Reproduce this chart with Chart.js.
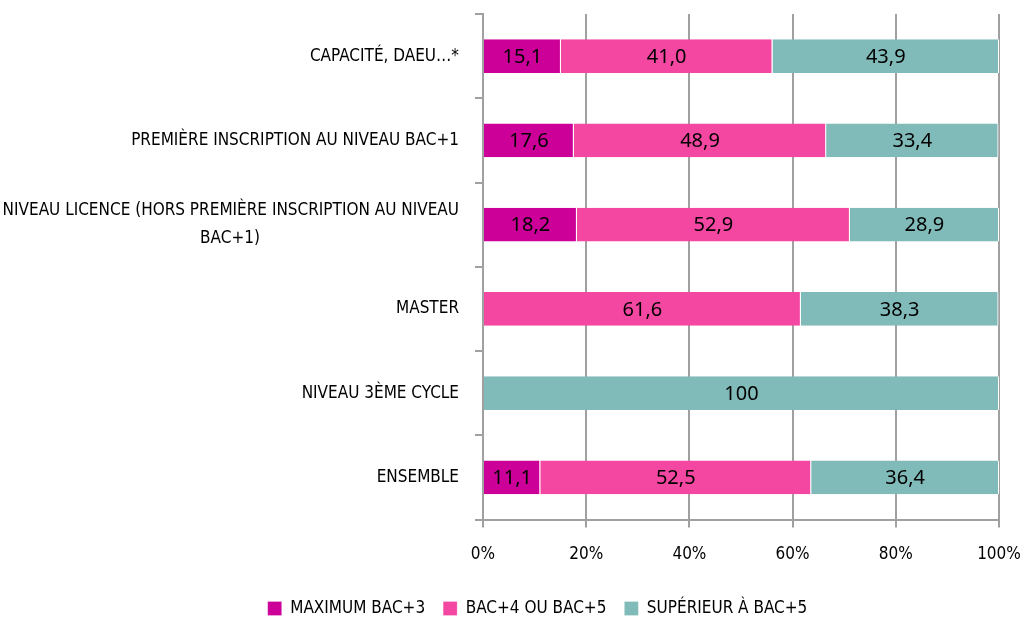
<!DOCTYPE html>
<html lang="fr">
<head>
  <meta charset="UTF-8" />
  <title>Niveau de diplôme</title>
  <script src="https://cdn.jsdelivr.net/npm/chart.js"></script>
  <style>
    body { margin: 0; background: white; }
    .chart-container { position: relative; width: 1024px; height: 621px; }
  </style>
</head>
<body>
  <div class="chart-container">
    <canvas id="chart"></canvas>
  </div>

  <script>
    const categories = [
      "CAPACITÉ, DAEU…*",
      "PREMIÈRE INSCRIPTION AU NIVEAU BAC+1",
      ["NIVEAU LICENCE (HORS PREMIÈRE INSCRIPTION AU NIVEAU", "BAC+1)"],
      "MASTER",
      "NIVEAU 3ÈME CYCLE",
      "ENSEMBLE"
    ];
    const maxBac3 = [15.1, 17.6, 18.2, null, null, 11.1];
    const bac4ou5 = [41.0, 48.9, 52.9, 61.6, null, 52.5];
    const supBac5 = [43.9, 33.4, 28.9, 38.3, 100, 36.4];
    const seriesNames = ["MAXIMUM BAC+3", "BAC+4 OU BAC+5", "SUPÉRIEUR À BAC+5"];
    const xTicks = [0, 20, 40, 60, 80, 100];

    const labelFont = "'DejaVu Sans Condensed', sans-serif";

    // centre the second line of a wrapped label under the first one
    const measure = document.createElement('canvas').getContext('2d');
    measure.font = "17px " + labelFont;
    function centreLines(label) {
      if (!Array.isArray(label)) return label;
      const w0 = measure.measureText(label[0]).width;
      let second = label[1];
      while (measure.measureText(second).width < (w0 + measure.measureText(label[1]).width) / 2) {
        second += ' ';
      }
      return [label[0], second];
    }

    const valueLabels = {
      id: 'valueLabels',
      afterLayout(chart) {
        // legend sits a bit right of the canvas centre in the original
        chart.legend.left += 76;
      },
      afterDatasetsDraw(chart) {
        const ctx = chart.ctx;
        ctx.save();
        ctx.font = "20px 'Noto Sans', sans-serif";
        ctx.fillStyle = '#000';
        ctx.textAlign = 'center';
        ctx.textBaseline = 'middle';
        chart.data.datasets.forEach((ds, i) => {
          chart.getDatasetMeta(i).data.forEach((bar, j) => {
            const v = ds.data[j];
            if (v == null) return;
            const p = bar.getCenterPoint();
            const txt = v === 100 ? '100' : v.toFixed(1).replace('.', ',');
            ctx.fillText(txt, p.x, p.y + 1);
          });
        });
        ctx.restore();
      }
    };

    const colors = ['#cc0099', '#f447a1', '#80bbb9'];
    const seriesData = [maxBac3, bac4ou5, supBac5];

    new Chart(document.getElementById('chart'), {
      type: 'bar',
      data: {
        labels: categories.map(centreLines),
        datasets: seriesNames.map((name, i) => ({
          label: name,
          data: seriesData[i],
          backgroundColor: colors[i],
          borderColor: '#ffffff',
          borderWidth: { right: 1 },
          borderSkipped: false,
          barPercentage: 0.4,
          categoryPercentage: 1
        }))
      },
      options: {
        indexAxis: 'y',
        responsive: true,
        maintainAspectRatio: false,
        animation: false,
        layout: { padding: { top: 14, right: 25, left: 0, bottom: -6 } },
        scales: {
          x: {
            stacked: true,
            min: 0,
            max: 100,
            afterBuildTicks: (scale) => { scale.ticks = xTicks.map(v => ({ value: v })); },
            afterFit: (scale) => { scale.paddingLeft = 0; scale.paddingRight = 0; },
            ticks: {
              callback: (v) => v + '%',
              color: '#000',
              font: { family: labelFont, size: 17 },
              padding: 17
            },
            grid: { color: '#a0a0a0', lineWidth: 2, tickLength: 8 },
            border: { color: '#a0a0a0', width: 2 }
          },
          y: {
            stacked: true,
            afterFit: (scale) => {
              scale.width = 483;
              scale.paddingTop = 0;
              scale.paddingBottom = 0;
            },
            ticks: {
              color: '#000',
              font: { family: labelFont, size: 17, lineHeight: 1.6 },
              padding: 16
            },
            grid: { offset: true, drawOnChartArea: false, color: '#a0a0a0', lineWidth: 2, tickLength: 8 },
            border: { color: '#a0a0a0', width: 2 }
          }
        },
        plugins: {
          legend: {
            position: 'bottom',
            labels: {
              color: '#000',
              boxWidth: 14,
              boxHeight: 14,
              padding: 18,
              font: { family: labelFont, size: 17 }
            }
          },
          tooltip: { enabled: false }
        }
      },
      plugins: [valueLabels]
    });
  </script>
</body>
</html>
